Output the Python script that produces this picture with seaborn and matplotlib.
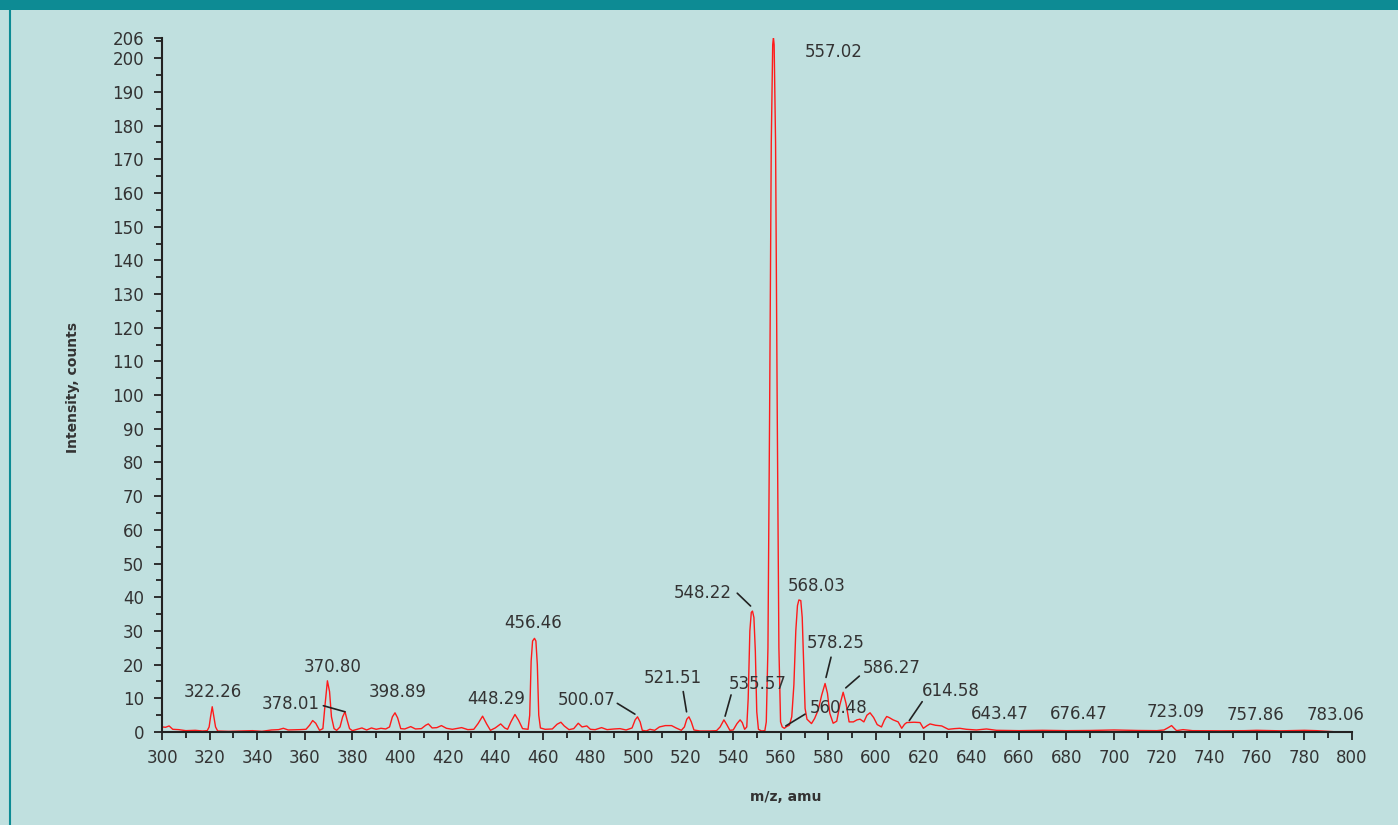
import matplotlib
matplotlib.use("Agg")
import matplotlib.pyplot as plt
import seaborn as sns
import pandas as pd
from matplotlib.patches import Rectangle
from matplotlib.lines import Line2D
from matplotlib.ticker import MultipleLocator, FixedLocator

# spectrum (m/z, counts)
mz = [300, 301.5, 303, 304.5, 307, 310, 314, 317, 319, 319.8, 320.4, 321.1, 321.8, 322.5, 323.4,
      328, 333, 338, 342, 346, 349, 351, 353, 358, 360.5, 362, 363.3, 364.6, 366.2, 367.6,
      368.5, 369.5, 370.4, 371.2, 372.3, 373.4, 374.8, 375.9, 376.9, 377.8, 378.8, 380, 382,
      384, 386, 388, 390, 392, 394, 395.6, 396.8, 397.9, 399, 400.3, 402, 404.5, 406.5, 409,
      410.8, 411.9, 413.5, 415.5, 417.4, 419.5, 422, 425.9, 428.5, 431, 432.8, 434.7, 436.4,
      438, 440, 442.3, 444, 445.2, 446.6, 448.3, 449.8, 451.5, 453.8, 454.5, 455.1, 455.7,
      456.5, 457.1, 457.7, 458.3, 459, 461, 464, 466, 467.6, 469, 471, 473, 474.9, 476.5,
      478.5, 480, 482, 484.7, 487, 490, 492.4, 495, 497.5, 498.8, 499.8, 500.9, 501.8, 503.5,
      505, 507, 509, 511.5, 514.1, 516, 518.2, 519.5, 520.5, 521.4, 522.4, 523.5, 526, 530,
      533, 534.5, 536.1, 537.3, 538.6, 540, 541.6, 542.9, 543.8, 544.8, 545.7, 546.3, 547.0,
      547.6, 548.1, 548.7, 549.3, 549.9, 550.6, 551.9, 553.3, 553.9, 554.6, 555.3, 556.0,
      556.6, 556.9, 557.2, 557.8, 558.5, 559.2, 559.9, 560.6, 561.5, 562.4, 563.6, 564.6,
      565.5, 566.3, 567.0, 567.6, 568.4, 569.0, 569.6, 570.2, 571.0, 572.9, 574.2, 575.7,
      577.2, 578.6, 579.6, 580.6, 582, 583.5, 584.8, 586.2, 587.4, 588.7, 590.5, 592, 593.3,
      594.9, 596.2, 597.5, 599, 600.5, 602.3, 603.5, 604.5, 605.5, 607.2, 609.3, 610.8, 612.0,
      612.9, 616, 618.5, 619.9, 621.5, 622.7, 625, 627.6, 630.4, 633, 635.2, 638, 642.2,
      646.4, 650.6, 660, 670, 680, 690, 700, 710, 718, 721, 722.8, 724.2, 725.4, 726.3, 729,
      733, 745, 755, 760, 770, 780, 785, 792.2]
counts = [1.5, 1.4, 1.8, 0.8, 0.7, 0.4, 0.5, 0.3, 0.4, 1.5, 4.5, 7.5, 4.5, 1.5, 0.3,
          0.2, 0.3, 0.4, 0.2, 0.6, 0.7, 1.1, 0.6, 0.7, 0.8, 2.0, 3.4, 2.6, 0.5, 1.0,
          8.0, 15.2, 12.0, 4.5, 1.0, 0.5, 1.5, 4.5, 6.0, 3.5, 1.0, 0.4, 0.8,
          1.2, 0.6, 1.2, 0.8, 1.1, 0.9, 1.5, 4.5, 5.7, 4.2, 1.0, 0.9, 1.6, 0.9, 1.0,
          2.0, 2.4, 1.2, 1.3, 1.9, 1.1, 0.8, 1.3, 0.7, 0.8, 2.5, 4.7, 2.4,
          0.5, 1.2, 2.4, 1.2, 0.8, 3.0, 5.2, 3.5, 1.0, 0.8, 5.0, 21.0, 27.0,
          27.8, 27.0, 20.0, 5.0, 1.2, 0.8, 0.9, 2.3, 2.9, 1.8, 0.7, 1.0, 2.6, 1.5,
          1.8, 0.8, 0.7, 1.3, 0.7, 0.9, 1.0, 0.6, 1.2, 3.6, 4.5, 3.0, 0.5, 0.3,
          0.8, 0.5, 1.5, 1.9, 1.9, 1.2, 0.5, 1.5, 3.8, 4.5, 3.0, 0.6, 0.3, 0.3,
          0.4, 1.5, 3.6, 2.2, 0.5, 0.6, 2.5, 3.6, 2.8, 0.8, 1.5, 10.0, 30.0,
          35.5, 35.9, 34.0, 24.0, 6.0, 0.8, 0.3, 0.4, 3.0, 25.0, 95.0, 175.0,
          204.0, 206.2, 204.0, 175.0, 95.0, 25.0, 3.0, 1.5, 1.1, 1.6, 2.0, 4.5,
          14.0, 30.0, 37.5, 39.2, 39.0, 34.0, 20.0, 7.0, 3.8, 2.5, 4.0, 6.5,
          11.0, 14.4, 11.5, 5.5, 2.6, 3.2, 8.0, 11.8, 8.5, 3.0, 3.0, 3.6, 3.8,
          3.0, 5.0, 5.7, 4.3, 2.2, 1.5, 3.5, 4.6, 4.3, 3.6, 3.0, 1.1, 2.3,
          2.8, 2.9, 2.8, 1.1, 1.9, 2.4, 2.0, 1.8, 0.8, 1.0, 1.1, 0.8, 0.6,
          0.9, 0.5, 0.4, 0.5, 0.4, 0.45, 0.6, 0.45, 0.4, 0.6, 1.3, 1.9, 1.0, 0.4, 0.7,
          0.4, 0.35, 0.4, 0.5, 0.35, 0.5, 0.4, 0.1]

# peak labels
peak_labels = ['322.26', '370.80', '378.01', '398.89', '448.29', '456.46', '500.07', '521.51',
               '535.57', '548.22', '557.02', '568.03', '578.25', '586.27', '560.48', '614.58',
               '643.47', '676.47', '723.09', '757.86', '783.06']

# label text centre (data coords)
label_xy = [(321.4, 11.9), (371.8, 19.4), (353.9, 8.2), (399.2, 11.9), (440.3, 9.7),
            (455.9, 32.3), (478.6, 9.5), (514.7, 16.0), (550.4, 14.2), (527.1, 41.3),
            (582.4, 201.9), (575.2, 43.3), (582.9, 26.5), (606.8, 19.1), (584.2, 7.1),
            (631.4, 12.3), (652.1, 5.3), (685.3, 5.3), (725.7, 5.8), (759.3, 5.0), (793.3, 5.0)]
# leader lines: (start, tip) or None
leaders = [None, None, ((367.8, 7.8), (376.9, 6.0)), None, None,
           None, ((491.3, 8.5), (498.7, 5.3)), ((519.0, 12.0), (520.4, 6.0)),
           ((539.1, 11.0), (536.6, 4.7)), ((541.7, 41.2), (547.3, 37.4)),
           None, None, ((581.1, 22.2), (579.0, 16.2)), ((593.0, 16.6), (587.3, 13.1)),
           ((570.2, 5.3), (562.1, 1.8)), ((619.4, 9.0), (614.0, 3.4)),
           None, None, None, None, None]

bg = '#c0e0df'
teal = '#0d8b94'
txt = '#333333'

df = pd.DataFrame({'mz': mz, 'counts': counts})

sns.set_style('ticks')
plt.rcParams['font.family'] = ['DejaVu Sans']

fig = plt.figure(figsize=(13.98, 8.25), dpi=100, facecolor=bg)
ax = fig.add_axes([162 / 1398, 1 - 732 / 825, 1190 / 1398, 694 / 825])
ax.set_facecolor(bg)

sns.lineplot(data=df, x='mz', y='counts', color='#ff1a1a', lw=1.0, ax=ax,
             estimator=None, sort=False)

ax.set_xlim(300, 800)
ax.set_ylim(0, 206)
ax.xaxis.set_major_locator(MultipleLocator(20))
ax.xaxis.set_minor_locator(MultipleLocator(10))
ax.yaxis.set_major_locator(FixedLocator(list(range(0, 201, 10)) + [206]))
ax.yaxis.set_minor_locator(MultipleLocator(5))
ax.tick_params(which='major', length=6, width=1.3, color='#222222', labelsize=12,
               labelcolor=txt)
ax.tick_params(which='minor', length=4, width=1.3, color='#222222')
ax.tick_params(axis='x', which='major', pad=6)
ax.tick_params(axis='y', which='major', pad=7)

sns.despine(ax=ax)
for s in ('left', 'bottom'):
    ax.spines[s].set_linewidth(1.5)
    ax.spines[s].set_color('#222222')

ax.set_xlabel('m/z, amu', fontsize=10, fontweight='bold', color=txt)
ax.set_ylabel('Intensity, counts', fontsize=10, fontweight='bold', color=txt)
ax.xaxis.set_label_coords((786 - 162) / 1190, (732 - 790) / 694)
ax.yaxis.set_label_coords((80 - 162) / 1190, (732 - 387) / 694)

for lab, (x, y), ld in zip(peak_labels, label_xy, leaders):
    ax.text(x, y, lab, fontsize=12, color=txt, ha='center', va='center')
    if ld is not None:
        ax.annotate('', xy=ld[1], xytext=ld[0],
                    arrowprops=dict(arrowstyle='-', color='#222222', lw=1.2,
                                    shrinkA=0, shrinkB=0))

# header band and left frame line
fig.patches.append(Rectangle((0, 1 - 10 / 825), 1, 10 / 825, transform=fig.transFigure,
                             facecolor=teal, edgecolor='none'))
fig.lines.append(Line2D([10 / 1398, 10 / 1398], [0, 1 - 10 / 825], transform=fig.transFigure,
                        color=teal, lw=1.5))

fig.savefig('out.png', dpi=100, facecolor=bg)
